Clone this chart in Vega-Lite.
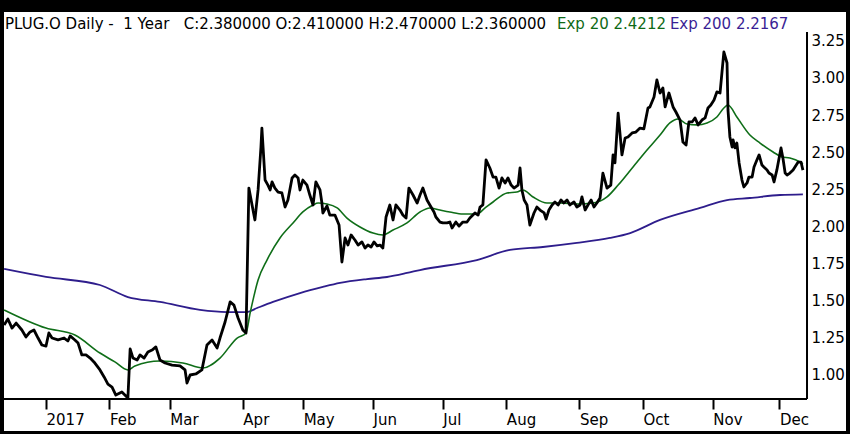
{
  "$schema": "https://vega.github.io/schema/vega-lite/v6.json",
  "width": 842,
  "height": 419,
  "autosize": {"type": "none"},
  "padding": {"left": 4, "top": 12, "right": 4, "bottom": 3},
  "background": "black",
  "config": {
    "view": {"fill": "white", "stroke": null},
    "font": "DejaVu Sans",
    "axis": {"labelFont": "DejaVu Sans", "labelFontSize": 15, "labelColor": "black", "grid": false, "domain": false, "title": null}
  },
  "datasets": {
    "price": [
      {"d": -13.2, "v": 1.337}, {"d": -12.0, "v": 1.377}, {"d": -10.7, "v": 1.316}, {"d": -9.4, "v": 1.35},
      {"d": -7.6, "v": 1.303}, {"d": -6.3, "v": 1.256}, {"d": -5.0, "v": 1.29}, {"d": -3.8, "v": 1.303},
      {"d": -2.5, "v": 1.249}, {"d": -1.3, "v": 1.202}, {"d": 0, "v": 1.195}, {"d": 0.9, "v": 1.283},
      {"d": 1.9, "v": 1.249}, {"d": 3.8, "v": 1.236}, {"d": 5.7, "v": 1.249}, {"d": 6.9, "v": 1.229},
      {"d": 7.6, "v": 1.263}, {"d": 9.1, "v": 1.236}, {"d": 10.1, "v": 1.215}, {"d": 11.3, "v": 1.135},
      {"d": 12.6, "v": 1.135}, {"d": 13.9, "v": 1.114}, {"d": 15.1, "v": 1.088}, {"d": 17.0, "v": 1.034},
      {"d": 18.3, "v": 0.987}, {"d": 19.5, "v": 0.939}, {"d": 20.8, "v": 0.919}, {"d": 22.0, "v": 0.865},
      {"d": 23.9, "v": 0.886}, {"d": 25.8, "v": 0.845}, {"d": 26.5, "v": 1.175}, {"d": 27.4, "v": 1.114},
      {"d": 28.7, "v": 1.101}, {"d": 29.6, "v": 1.135}, {"d": 30.9, "v": 1.114}, {"d": 32.1, "v": 1.155},
      {"d": 33.4, "v": 1.168}, {"d": 34.6, "v": 1.189}, {"d": 35.9, "v": 1.101}, {"d": 37.5, "v": 1.081},
      {"d": 39.7, "v": 1.067}, {"d": 42.2, "v": 1.061}, {"d": 43.8, "v": 1.034}, {"d": 44.4, "v": 0.946},
      {"d": 45.4, "v": 1.0}, {"d": 47.2, "v": 1.007}, {"d": 49.1, "v": 1.034}, {"d": 50.7, "v": 1.202},
      {"d": 52.3, "v": 1.236}, {"d": 53.9, "v": 1.182}, {"d": 54.8, "v": 1.249}, {"d": 56.4, "v": 1.357},
      {"d": 58.0, "v": 1.492}, {"d": 59.2, "v": 1.471}, {"d": 60.5, "v": 1.384}, {"d": 62.0, "v": 1.303},
      {"d": 63.0, "v": 1.283}, {"d": 63.9, "v": 2.259}, {"d": 64.9, "v": 2.145}, {"d": 65.8, "v": 2.044},
      {"d": 66.8, "v": 2.246}, {"d": 67.7, "v": 2.535}, {"d": 68.0, "v": 2.663}, {"d": 69.0, "v": 2.313},
      {"d": 69.9, "v": 2.279}, {"d": 70.6, "v": 2.246}, {"d": 71.2, "v": 2.3}, {"d": 72.1, "v": 2.259},
      {"d": 73.1, "v": 2.232}, {"d": 74.3, "v": 2.226}, {"d": 75.3, "v": 2.131}, {"d": 76.2, "v": 2.178},
      {"d": 77.5, "v": 2.327}, {"d": 78.4, "v": 2.347}, {"d": 79.4, "v": 2.327}, {"d": 80.0, "v": 2.246},
      {"d": 80.9, "v": 2.313}, {"d": 82.2, "v": 2.279}, {"d": 83.1, "v": 2.212}, {"d": 84.1, "v": 2.145},
      {"d": 85.0, "v": 2.3}, {"d": 86.3, "v": 2.246}, {"d": 86.9, "v": 2.158}, {"d": 87.2, "v": 2.091},
      {"d": 88.5, "v": 2.138}, {"d": 89.4, "v": 2.077}, {"d": 91.0, "v": 2.077}, {"d": 92.3, "v": 2.01},
      {"d": 93.2, "v": 1.761}, {"d": 94.2, "v": 1.923}, {"d": 95.1, "v": 1.875}, {"d": 96.1, "v": 1.943},
      {"d": 97.3, "v": 1.909}, {"d": 98.3, "v": 1.875}, {"d": 99.5, "v": 1.896}, {"d": 100.5, "v": 1.855},
      {"d": 101.4, "v": 1.875}, {"d": 102.4, "v": 1.862}, {"d": 103.3, "v": 1.896}, {"d": 104.3, "v": 1.869},
      {"d": 105.2, "v": 1.875}, {"d": 106.1, "v": 1.855}, {"d": 107.1, "v": 2.064}, {"d": 108.3, "v": 2.145},
      {"d": 109.3, "v": 2.044}, {"d": 110.2, "v": 2.145}, {"d": 111.5, "v": 2.111}, {"d": 112.4, "v": 2.077},
      {"d": 113.4, "v": 2.057}, {"d": 114.3, "v": 2.259}, {"d": 115.6, "v": 2.212}, {"d": 116.9, "v": 2.158},
      {"d": 117.8, "v": 2.212}, {"d": 118.7, "v": 2.259}, {"d": 120.0, "v": 2.178}, {"d": 120.9, "v": 2.145},
      {"d": 122.2, "v": 2.098}, {"d": 122.8, "v": 2.064}, {"d": 124.1, "v": 2.03}, {"d": 125.0, "v": 2.024},
      {"d": 126.3, "v": 2.024}, {"d": 127.2, "v": 2.03}, {"d": 127.9, "v": 1.99}, {"d": 129.1, "v": 2.03},
      {"d": 130.1, "v": 2.003}, {"d": 131.3, "v": 2.03}, {"d": 132.6, "v": 2.03}, {"d": 133.5, "v": 2.057},
      {"d": 135.1, "v": 2.091}, {"d": 136.1, "v": 2.077}, {"d": 136.7, "v": 2.131}, {"d": 137.6, "v": 2.145},
      {"d": 138.6, "v": 2.448}, {"d": 139.8, "v": 2.394}, {"d": 140.8, "v": 2.333}, {"d": 141.7, "v": 2.333},
      {"d": 142.7, "v": 2.259}, {"d": 143.6, "v": 2.327}, {"d": 144.6, "v": 2.293}, {"d": 145.5, "v": 2.327},
      {"d": 146.5, "v": 2.279}, {"d": 147.4, "v": 2.259}, {"d": 148.7, "v": 2.279}, {"d": 149.3, "v": 2.394},
      {"d": 149.9, "v": 2.246}, {"d": 150.6, "v": 2.178}, {"d": 151.5, "v": 2.145}, {"d": 151.8, "v": 2.098},
      {"d": 152.4, "v": 2.01}, {"d": 153.7, "v": 2.091}, {"d": 154.6, "v": 2.131}, {"d": 155.6, "v": 2.111},
      {"d": 156.9, "v": 2.091}, {"d": 157.5, "v": 2.05}, {"d": 158.4, "v": 2.111}, {"d": 159.4, "v": 2.145},
      {"d": 160.3, "v": 2.165}, {"d": 161.3, "v": 2.145}, {"d": 162.2, "v": 2.178}, {"d": 163.1, "v": 2.158},
      {"d": 164.1, "v": 2.178}, {"d": 165.0, "v": 2.145}, {"d": 166.3, "v": 2.165}, {"d": 167.2, "v": 2.131},
      {"d": 168.2, "v": 2.145}, {"d": 168.8, "v": 2.199}, {"d": 169.8, "v": 2.111}, {"d": 170.7, "v": 2.145},
      {"d": 171.7, "v": 2.178}, {"d": 172.6, "v": 2.131}, {"d": 173.5, "v": 2.158}, {"d": 174.5, "v": 2.192},
      {"d": 175.4, "v": 2.36}, {"d": 176.7, "v": 2.259}, {"d": 177.9, "v": 2.279}, {"d": 178.6, "v": 2.482},
      {"d": 179.2, "v": 2.428}, {"d": 180.2, "v": 2.764}, {"d": 181.4, "v": 2.482}, {"d": 182.4, "v": 2.596},
      {"d": 183.3, "v": 2.603}, {"d": 184.6, "v": 2.63}, {"d": 185.8, "v": 2.636}, {"d": 187.1, "v": 2.663},
      {"d": 188.3, "v": 2.657}, {"d": 189.6, "v": 2.798}, {"d": 190.2, "v": 2.805}, {"d": 191.5, "v": 2.872},
      {"d": 192.4, "v": 2.987}, {"d": 193.4, "v": 2.899}, {"d": 194.3, "v": 2.933}, {"d": 195.0, "v": 2.805},
      {"d": 196.2, "v": 2.899}, {"d": 197.5, "v": 2.805}, {"d": 198.4, "v": 2.771}, {"d": 199.7, "v": 2.717},
      {"d": 200.6, "v": 2.569}, {"d": 201.6, "v": 2.549}, {"d": 202.5, "v": 2.704}, {"d": 203.5, "v": 2.704},
      {"d": 204.4, "v": 2.731}, {"d": 205.4, "v": 2.684}, {"d": 206.6, "v": 2.717}, {"d": 207.6, "v": 2.731},
      {"d": 208.5, "v": 2.798}, {"d": 209.4, "v": 2.818}, {"d": 210.4, "v": 2.852}, {"d": 211.3, "v": 2.906},
      {"d": 212.3, "v": 2.899}, {"d": 213.5, "v": 3.175}, {"d": 214.5, "v": 3.101}, {"d": 214.8, "v": 2.785},
      {"d": 215.4, "v": 2.603}, {"d": 216.1, "v": 2.535}, {"d": 216.4, "v": 2.583}, {"d": 217.0, "v": 2.529},
      {"d": 217.6, "v": 2.562}, {"d": 218.3, "v": 2.428}, {"d": 219.2, "v": 2.313}, {"d": 219.8, "v": 2.266},
      {"d": 220.8, "v": 2.293}, {"d": 221.4, "v": 2.333}, {"d": 222.4, "v": 2.333}, {"d": 223.0, "v": 2.401},
      {"d": 223.9, "v": 2.448}, {"d": 224.6, "v": 2.482}, {"d": 225.5, "v": 2.414}, {"d": 226.1, "v": 2.401},
      {"d": 227.1, "v": 2.381}, {"d": 227.7, "v": 2.36}, {"d": 228.7, "v": 2.347}, {"d": 229.3, "v": 2.3},
      {"d": 230.2, "v": 2.381}, {"d": 230.9, "v": 2.461}, {"d": 231.5, "v": 2.529}, {"d": 232.1, "v": 2.461},
      {"d": 232.8, "v": 2.36}, {"d": 233.4, "v": 2.347}, {"d": 234.3, "v": 2.36}, {"d": 235.3, "v": 2.381},
      {"d": 235.9, "v": 2.401}, {"d": 236.9, "v": 2.434}, {"d": 237.8, "v": 2.434}, {"d": 238.4, "v": 2.38}
    ],
    "ema20": [
      {"d": -13.2, "v": 1.438}, {"d": 0, "v": 1.316}, {"d": 9.1, "v": 1.269}, {"d": 17.0, "v": 1.148},
      {"d": 21.7, "v": 1.088}, {"d": 25.8, "v": 1.034}, {"d": 28.0, "v": 1.061}, {"d": 35.9, "v": 1.094},
      {"d": 43.1, "v": 1.081}, {"d": 49.4, "v": 1.047}, {"d": 54.8, "v": 1.114}, {"d": 60.2, "v": 1.249},
      {"d": 63.0, "v": 1.283}, {"d": 64.3, "v": 1.418}, {"d": 66.8, "v": 1.64}, {"d": 69.6, "v": 1.774},
      {"d": 73.7, "v": 1.923}, {"d": 77.8, "v": 2.024}, {"d": 80.9, "v": 2.098}, {"d": 84.1, "v": 2.145},
      {"d": 85.7, "v": 2.158}, {"d": 88.5, "v": 2.152}, {"d": 91.7, "v": 2.125}, {"d": 94.8, "v": 2.057},
      {"d": 98.9, "v": 1.997}, {"d": 103.0, "v": 1.956}, {"d": 106.1, "v": 1.943}, {"d": 109.3, "v": 1.976},
      {"d": 113.7, "v": 2.024}, {"d": 117.8, "v": 2.098}, {"d": 120.9, "v": 2.125}, {"d": 124.1, "v": 2.111},
      {"d": 127.2, "v": 2.098}, {"d": 131.3, "v": 2.084}, {"d": 135.7, "v": 2.084}, {"d": 138.3, "v": 2.125},
      {"d": 140.8, "v": 2.165}, {"d": 145.2, "v": 2.226}, {"d": 148.3, "v": 2.232}, {"d": 150.2, "v": 2.246},
      {"d": 153.4, "v": 2.199}, {"d": 157.8, "v": 2.158}, {"d": 161.9, "v": 2.158}, {"d": 167.2, "v": 2.152},
      {"d": 172.3, "v": 2.158}, {"d": 176.7, "v": 2.199}, {"d": 180.2, "v": 2.279}, {"d": 184.9, "v": 2.401},
      {"d": 189.3, "v": 2.515}, {"d": 193.4, "v": 2.616}, {"d": 196.5, "v": 2.697}, {"d": 199.1, "v": 2.724},
      {"d": 201.9, "v": 2.69}, {"d": 205.0, "v": 2.684}, {"d": 208.2, "v": 2.697}, {"d": 211.3, "v": 2.737},
      {"d": 213.5, "v": 2.798}, {"d": 214.8, "v": 2.818}, {"d": 217.6, "v": 2.737}, {"d": 221.7, "v": 2.616},
      {"d": 224.9, "v": 2.562}, {"d": 229.0, "v": 2.502}, {"d": 231.8, "v": 2.468}, {"d": 234.3, "v": 2.461},
      {"d": 237.5, "v": 2.434}, {"d": 238.4, "v": 2.4212}
    ],
    "ema200": [
      {"d": -13.2, "v": 1.714}, {"d": 0, "v": 1.66}, {"d": 17.0, "v": 1.606}, {"d": 25.8, "v": 1.525},
      {"d": 35.9, "v": 1.492}, {"d": 48.5, "v": 1.438}, {"d": 57.0, "v": 1.424}, {"d": 63.3, "v": 1.424},
      {"d": 66.5, "v": 1.451}, {"d": 71.5, "v": 1.492}, {"d": 80.0, "v": 1.552}, {"d": 87.2, "v": 1.593},
      {"d": 92.6, "v": 1.62}, {"d": 101.1, "v": 1.646}, {"d": 107.4, "v": 1.66}, {"d": 113.7, "v": 1.687},
      {"d": 117.8, "v": 1.707}, {"d": 135.7, "v": 1.774}, {"d": 146.1, "v": 1.842}, {"d": 156.5, "v": 1.862},
      {"d": 167.2, "v": 1.889}, {"d": 177.6, "v": 1.923}, {"d": 184.0, "v": 1.956}, {"d": 193.4, "v": 2.044},
      {"d": 206.0, "v": 2.125}, {"d": 214.5, "v": 2.178}, {"d": 221.7, "v": 2.192}, {"d": 231.2, "v": 2.212},
      {"d": 238.4, "v": 2.2167}
    ],
    "header": [
      {"label": "PLUG.O Daily -\u00a0 1 Year\u00a0\u00a0 C:2.380000 O:2.410000 H:2.470000 L:2.360000", "part": "quote"},
      {"label": "Exp 20 2.4212", "part": "exp20"},
      {"label": "Exp 200 2.2167", "part": "exp200"}
    ]
  },
  "layer": [
    {
      "data": {"name": "ema200"},
      "mark": {"type": "line", "color": "#2e1d8c", "strokeWidth": 1.8, "interpolate": "monotone"},
      "encoding": {
        "x": {
          "field": "d",
          "type": "quantitative",
          "scale": {"domain": [-13.228, 251.97], "nice": false, "zero": false},
          "axis": {
            "orient": "bottom",
            "offset": -32,
            "values": [0, 20, 39, 62, 81, 103, 125, 145, 168, 188, 210, 231],
            "labelExpr": "['2017','Feb','Mar','Apr','May','Jun','Jul','Aug','Sep','Oct','Nov','Dec'][indexof([0,20,39,62,81,103,125,145,168,188,210,231], datum.value)]",
            "labelAlign": "left",
            "labelDx": 2,
            "labelPadding": 3,
            "labelFlush": false,
            "labelOverlap": false,
            "tickSize": 10,
            "tickWidth": 2,
            "tickColor": "black"
          }
        },
        "y": {
          "field": "v",
          "type": "quantitative",
          "scale": {"domain": [0.6229, 3.4444], "nice": false, "zero": false},
          "axis": {
            "orient": "right",
            "offset": -39,
            "values": [1, 1.25, 1.5, 1.75, 2, 2.25, 2.5, 2.75, 3, 3.25],
            "format": ".2f",
            "ticks": false,
            "tickSize": 0,
            "labelPadding": 4,
            "labelBaseline": "middle"
          }
        }
      }
    },
    {
      "data": {"name": "ema20"},
      "mark": {"type": "line", "color": "#0f6e18", "strokeWidth": 1.6, "interpolate": "monotone"},
      "encoding": {
        "x": {"field": "d", "type": "quantitative"},
        "y": {"field": "v", "type": "quantitative"}
      }
    },
    {
      "data": {"name": "price"},
      "mark": {"type": "line", "color": "black", "strokeWidth": 2.8, "strokeJoin": "round"},
      "encoding": {
        "x": {"field": "d", "type": "quantitative"},
        "y": {"field": "v", "type": "quantitative"}
      }
    },
    {
      "data": {"values": [{"edge": "right"}]},
      "mark": {"type": "rule", "color": "black", "strokeWidth": 2},
      "encoding": {
        "x": {"datum": 239.69},
        "y": {"datum": 3.3098},
        "y2": {"datum": 0.8384}
      }
    },
    {
      "data": {"values": [{"edge": "bottom"}]},
      "mark": {"type": "rule", "color": "black", "strokeWidth": 2},
      "encoding": {
        "x": {"datum": -13.228},
        "x2": {"datum": 239.69},
        "y": {"datum": 0.8384}
      }
    },
    {
      "data": {"name": "header"},
      "transform": [{"filter": "datum.part == 'quote'"}],
      "mark": {"type": "text", "align": "left", "baseline": "middle", "fontSize": 15, "color": "black"},
      "encoding": {"x": {"datum": -12.91}, "y": {"datum": 3.362}, "text": {"field": "label"}}
    },
    {
      "data": {"name": "header"},
      "transform": [{"filter": "datum.part == 'exp20'"}],
      "mark": {"type": "text", "align": "left", "baseline": "middle", "fontSize": 15, "color": "#0f6a16"},
      "encoding": {"x": {"datum": 160.94}, "y": {"datum": 3.362}, "text": {"field": "label"}}
    },
    {
      "data": {"name": "header"},
      "transform": [{"filter": "datum.part == 'exp200'"}],
      "mark": {"type": "text", "align": "left", "baseline": "middle", "fontSize": 15, "color": "#3a1f95"},
      "encoding": {"x": {"datum": 196.5}, "y": {"datum": 3.362}, "text": {"field": "label"}}
    }
  ]
}
